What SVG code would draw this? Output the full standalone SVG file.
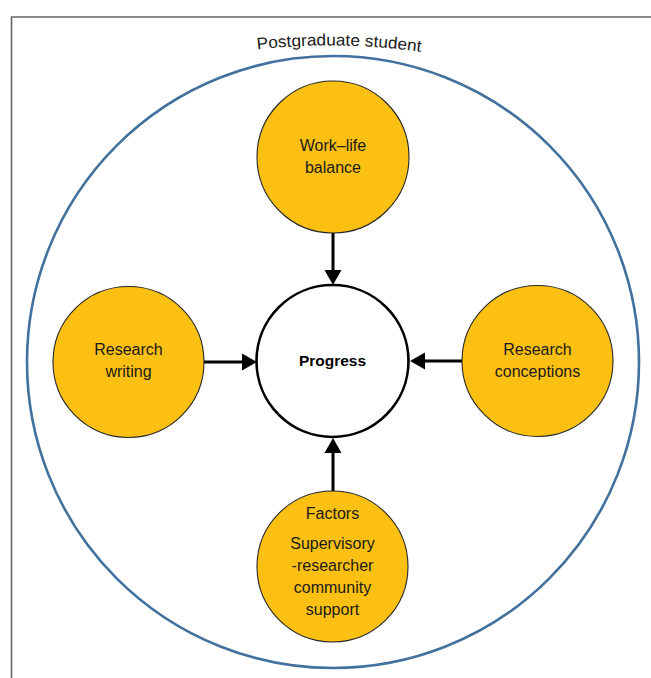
<svg xmlns="http://www.w3.org/2000/svg" xmlns:xlink="http://www.w3.org/1999/xlink" width="651" height="678" viewBox="0 0 651 678">
  <style>
    .frame { fill: none; stroke: #666666; stroke-width: 1.6; }
    .outer { fill: none; stroke: #41719C; stroke-width: 2.6; }
    .factor { fill: #FBC012; stroke: #262626; stroke-width: 1.1; }
    .core { fill: #FFFFFF; stroke: #000000; stroke-width: 2.6; }
    .lbl { font-family: "Liberation Sans", Arial, sans-serif; font-size: 16px; fill: #1a1a1a; text-anchor: middle; }
    .bold { font-weight: bold; font-size: 15.5px; fill: #000; }
    .conn line { stroke: #000; stroke-width: 3; }
    .conn polygon { fill: #000; }
  </style>
  <defs>
    <path id="arcText" d="M 200 58.6 A 650 650 0 0 1 460 58.6" fill="none"/>
  </defs>
  <rect width="651" height="678" fill="#FFFFFF"/>
  <path class="frame" d="M 11.5 678 V 17 H 651"/>

  <g id="postgraduate-student">
    <circle class="outer" cx="333" cy="362" r="306"/>
    <text class="lbl" style="text-anchor:start;font-size:16.5px"><textPath xlink:href="#arcText" startOffset="58" textLength="164" lengthAdjust="spacingAndGlyphs">Postgraduate student</textPath></text>
  </g>

  <g id="connectors" class="conn">
    <line x1="333" y1="233" x2="333" y2="271"/>
    <polygon points="324.5,270 341.5,270 333,285"/>
    <line x1="204" y1="362" x2="243" y2="362"/>
    <polygon points="242,353.5 242,370.5 257,362"/>
    <line x1="462" y1="361" x2="424" y2="361"/>
    <polygon points="425,352.5 425,369.5 410,361"/>
    <line x1="333" y1="491" x2="333" y2="452"/>
    <polygon points="324.5,453 341.5,453 333,438"/>
  </g>

  <g id="work-life-balance">
    <circle class="factor" cx="333" cy="157" r="76"/>
    <text class="lbl" x="333" y="151">Work–life</text>
    <text class="lbl" x="333" y="173">balance</text>
  </g>

  <g id="research-writing">
    <circle class="factor" cx="128.5" cy="362" r="75.5"/>
    <text class="lbl" x="128.5" y="355">Research</text>
    <text class="lbl" x="128.5" y="377">writing</text>
  </g>

  <g id="research-conceptions">
    <circle class="factor" cx="537.5" cy="361" r="75.5"/>
    <text class="lbl" x="537.5" y="355">Research</text>
    <text class="lbl" x="537.5" y="377">conceptions</text>
  </g>

  <g id="progress">
    <circle class="core" cx="332.5" cy="361" r="76"/>
    <text class="lbl bold" x="332.5" y="366">Progress</text>
  </g>

  <g id="factors">
    <circle class="factor" cx="332.5" cy="566.5" r="75.5"/>
    <text class="lbl" x="332.5" y="519">Factors</text>
    <text class="lbl" x="332.5" y="549">Supervisory</text>
    <text class="lbl" x="332.5" y="571">-researcher</text>
    <text class="lbl" x="332.5" y="593">community</text>
    <text class="lbl" x="332.5" y="615">support</text>
  </g>
</svg>
